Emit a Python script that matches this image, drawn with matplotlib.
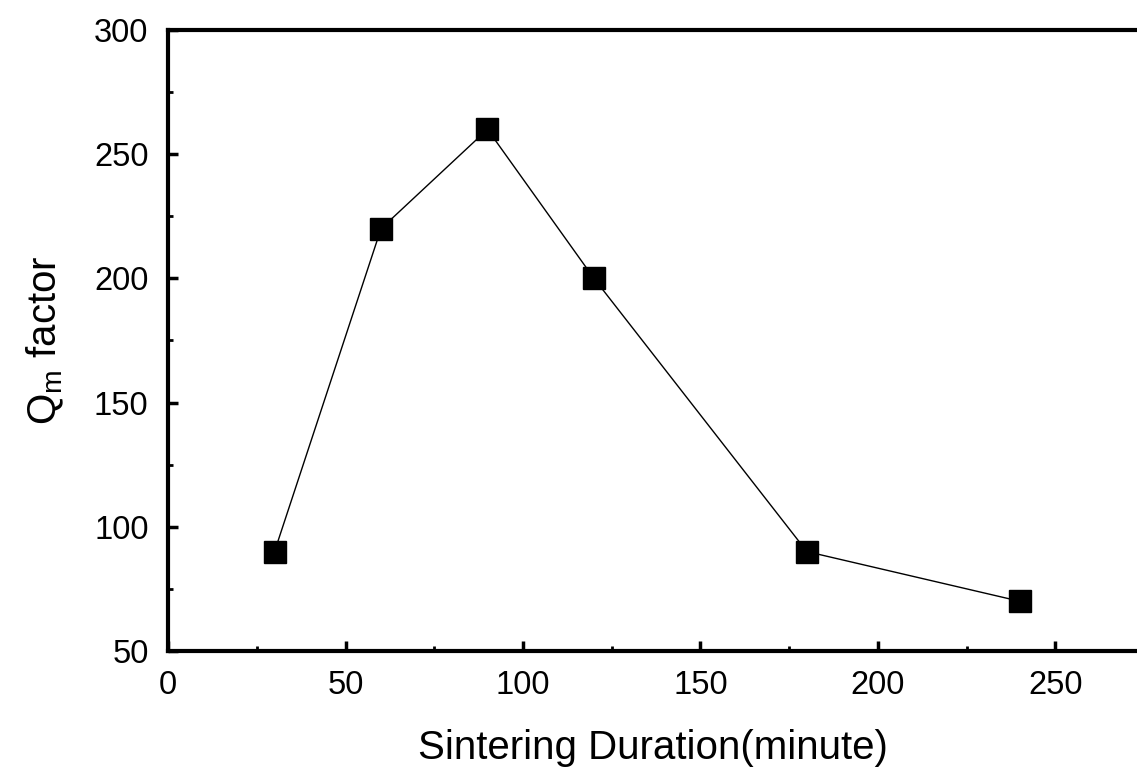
import matplotlib
matplotlib.use('Agg')
import matplotlib.pyplot as plt
from matplotlib.ticker import MultipleLocator

plt.rcParams['font.family'] = ['Liberation Sans', 'DejaVu Sans']
plt.rcParams['mathtext.fontset'] = 'custom'
plt.rcParams['mathtext.rm'] = 'Liberation Sans'

# sintering duration (minute) vs Qm factor
duration = [30, 60, 90, 120, 180, 240]
qm = [90, 220, 260, 200, 90, 70]

fig = plt.figure(figsize=(11.37, 7.81), dpi=100)
ax = fig.add_axes([0.1478, 0.1665, 0.8522, 0.7951])

ax.plot(duration, qm, color='black', lw=1.0, marker='s', ms=16,
        mfc='black', mec='black')

ax.set_xlim(0, 273)
ax.set_ylim(50, 300)
ax.xaxis.set_major_locator(MultipleLocator(50))
ax.xaxis.set_minor_locator(MultipleLocator(25))
ax.yaxis.set_major_locator(MultipleLocator(50))
ax.yaxis.set_minor_locator(MultipleLocator(25))

for side in ['left', 'bottom', 'top']:
    ax.spines[side].set_linewidth(3)
ax.spines['right'].set_visible(False)

ax.tick_params(which='major', direction='in', length=7, width=2.5,
               labelsize=23.5)
ax.tick_params(axis='x', which='major', pad=14)
ax.tick_params(axis='y', which='major', pad=14)
ax.tick_params(which='minor', direction='in', length=3.5, width=2)

ax.set_xlabel('Sintering Duration(minute)', fontsize=29, labelpad=20)
ax.set_ylabel(r'Q$_\mathrm{m}$ factor', fontsize=29, labelpad=20)

fig.savefig('out.png', dpi=100)
